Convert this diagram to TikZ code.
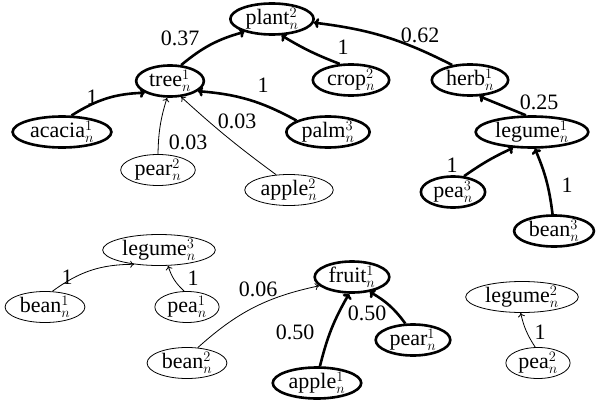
\documentclass[tikz,border=0pt]{standalone}
\usepackage{fontspec}
\setmainfont{Liberation Serif}
\newfontfamily\tmsfont{Liberation Serif}
\newcommand{\bigtxt}{\tmsfont\fontsize{22}{26}\selectfont}
\usetikzlibrary{shapes.geometric,arrows.meta}
\begin{document}
\begin{tikzpicture}[x=1pt,y=-1pt,
  every node/.style={font=\bigtxt},
  wn/.style={ellipse,draw,inner xsep=3pt,inner ysep=0pt,line width=0.8pt},
  sn/.style={wn,line width=2.6pt},
  thinedge/.style={-{To[length=4pt,width=7pt]},line width=0.8pt},
  thickedge/.style={-{To[length=5pt,width=10pt]},line width=2.6pt},
  lab/.style={inner sep=0pt}]
\useasboundingbox (0,0) rectangle (597,412);
% nodes
\node[sn] (plant) at (272,19) {plant$_n^2$};
\node[sn] (tree) at (170,81) {tree$_n^1$};
\node[sn] (crop) at (351,80) {crop$_n^2$};
\node[sn] (herb) at (470,80) {herb$_n^1$};
\node[sn] (acacia) at (62,132) {acacia$_n^1$};
\node[sn] (palm) at (328,132) {palm$_n^3$};
\node[sn] (leg1) at (532,132) {legume$_n^1$};
\node[wn] (pear2) at (158,170) {pear$_n^2$};
\node[wn] (apple2) at (289,190) {apple$_n^2$};
\node[sn] (pea3) at (453,192) {pea$_n^3$};
\node[sn] (bean3) at (554,231) {bean$_n^3$};
\node[wn] (leg3) at (159,250) {legume$_n^3$};
\node[wn] (bean1) at (45,307) {bean$_n^1$};
\node[wn] (pea1) at (187,307) {pea$_n^1$};
\node[sn] (fruit) at (352,277) {fruit$_n^1$};
\node[wn] (leg2) at (522,297) {legume$_n^2$};
\node[sn] (pear1) at (413,340) {pear$_n^1$};
\node[wn] (bean2) at (187,363) {bean$_n^2$};
\node[wn] (pea2) at (538,363) {pea$_n^2$};
\node[sn] (apple1) at (317,383) {apple$_n^1$};
% edges
\draw[thickedge] (tree.55) to[bend left=12] (plant.205);
\draw[thickedge] (crop.125) to[bend left=5] (plant.-60);
\draw[thickedge] (herb.140) to[bend right=10] (plant.-5);
\draw[thickedge] (acacia.60) to[bend left=15] (tree.205);
\draw[thickedge] (palm.160) to[bend right=12] (tree.-20);
\draw[thinedge] (pear2.90) to[bend left=8] (tree.-100);
\draw[thinedge] (apple2.130) to[bend left=3] (tree.-55);
\draw[thickedge] (leg1.110) -- (herb.-60);
\draw[thickedge] (pea3.55) to[bend left=5] (leg1.-140);
\draw[thickedge] (bean3.95) to[bend right=8] (leg1.-80);
\draw[thinedge] (bean1.65) to[bend left=18] (leg3.-150);
\draw[thinedge] (pea1.100) to[bend left=15] (leg3.-60);
\draw[thinedge] (bean2.55) to[bend left=15] (fruit.195);
\draw[thickedge] (apple1.80) to[bend left=8] (fruit.-100);
\draw[thickedge] (pear1.115) to[bend right=12] (fruit.-40);
\draw[thinedge] (pea2.100) to[bend left=10] (leg2.-95);
% labels
\node[lab] (l1) at (180,38) {0.37};
\node[lab] (l2) at (343,47) {1};
\node[lab] (l3) at (420,35) {0.62};
\node[lab] (l4) at (92,97) {1};
\node[lab] (l5) at (263,85) {1};
\node[lab] (l6) at (188,142) {0.03};
\node[lab] (l7) at (237,121) {0.03};
\node[lab] (l8) at (539,102) {0.25};
\node[lab] (l9) at (452,165) {1};
\node[lab] (l10) at (567,185) {1};
\node[lab] (l11) at (67,277) {1};
\node[lab] (l12) at (193,278) {1};
\node[lab] (l13) at (258,289) {0.06};
\node[lab] (l14) at (295,332) {0.50};
\node[lab] (l15) at (367,313) {0.50};
\node[lab] (l16) at (540,332) {1};
\end{tikzpicture}
\end{document}
